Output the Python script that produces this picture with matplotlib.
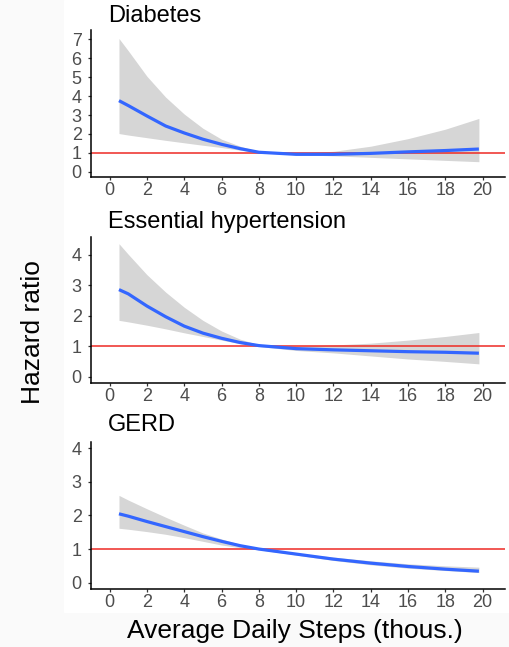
import matplotlib
matplotlib.use("Agg")
import matplotlib.pyplot as plt
from matplotlib.patches import Rectangle

plt.rcParams['font.family'] = ['Liberation Sans', 'DejaVu Sans']

# steps (thousands) where the curves were read
steps = [0.5, 1, 2, 3, 4, 5, 6, 7, 8, 10, 12, 14, 16, 18, 19.8]

# Diabetes
diab_hr = [3.76, 3.5, 2.95, 2.42, 2.05, 1.72, 1.45, 1.22, 1.03, 0.92, 0.92, 0.97, 1.05, 1.12, 1.2]
diab_lo = [2.02, 1.94, 1.8, 1.66, 1.53, 1.4, 1.28, 1.14, 1.0, 0.9, 0.84, 0.76, 0.68, 0.6, 0.53]
diab_hi = [7.05, 6.4, 5.05, 3.95, 3.05, 2.3, 1.72, 1.35, 1.06, 0.97, 1.08, 1.35, 1.75, 2.25, 2.82]

# Essential hypertension
hyp_hr = [2.86, 2.72, 2.32, 1.97, 1.66, 1.43, 1.26, 1.12, 1.02, 0.92, 0.88, 0.85, 0.82, 0.8, 0.77]
hyp_lo = [1.85, 1.8, 1.69, 1.57, 1.44, 1.32, 1.2, 1.08, 0.99, 0.86, 0.78, 0.68, 0.58, 0.5, 0.42]
hyp_hi = [4.37, 4.02, 3.35, 2.78, 2.28, 1.85, 1.5, 1.23, 1.05, 1.0, 1.04, 1.1, 1.2, 1.32, 1.45]

# GERD
gerd_hr = [2.05, 1.98, 1.82, 1.67, 1.52, 1.37, 1.23, 1.1, 1.0, 0.85, 0.7, 0.58, 0.48, 0.4, 0.34]
gerd_lo = [1.62, 1.59, 1.52, 1.44, 1.34, 1.23, 1.12, 1.04, 0.98, 0.82, 0.66, 0.53, 0.43, 0.36, 0.3]
gerd_hi = [2.6, 2.46, 2.2, 1.95, 1.71, 1.48, 1.3, 1.14, 1.02, 0.88, 0.76, 0.65, 0.56, 0.5, 0.46]

titles = ["Diabetes", "Essential hypertension", "GERD"]
curves = [(diab_hr, diab_lo, diab_hi), (hyp_hr, hyp_lo, hyp_hi), (gerd_hr, gerd_lo, gerd_hi)]
yticks = [range(0, 8), range(0, 5), range(0, 5)]
ylims = [(-0.28, 7.5), (-0.2, 4.6), (-0.2, 4.2)]
xticks = list(range(0, 21, 2))

W, H = 510, 647
fig = plt.figure(figsize=(W / 100, H / 100), dpi=100)
fig.patches.append(Rectangle((0, 0), 1, 1, transform=fig.transFigure, color="#fafafa", zorder=-2))
fig.patches.append(Rectangle((64 / W, 1 - 612 / H), 1, 612 / H, transform=fig.transFigure,
                             color="white", zorder=-1))

# axes boxes in pixels: (top, bottom)
boxes = [(30, 177), (236.7, 382.7), (441.7, 589.3)]
title_y = [16, 222, 425]

for i, (top, bot) in enumerate(boxes):
    ax = fig.add_axes([91 / W, 1 - bot / H, (505 - 91) / W, (bot - top) / H])
    ax.set_facecolor("none")
    hr, lo, hi = curves[i]
    ax.fill_between(steps, lo, hi, color="#d6d6d6", lw=0, zorder=1)
    ax.axhline(1, color="#ee2a24", lw=1.1, zorder=2)
    ax.plot(steps, hr, color="#3366ff", lw=2.3, zorder=3, solid_capstyle="butt")
    ax.set_xlim(-1, 21.2)
    ax.set_ylim(*ylims[i])
    ax.set_xticks(xticks)
    ax.set_yticks(list(yticks[i]))
    for s in ["top", "right"]:
        ax.spines[s].set_visible(False)
    for s in ["left", "bottom"]:
        ax.spines[s].set_linewidth(1.1)
        ax.spines[s].set_color("black")
    ax.tick_params(length=2.2, width=0.9, color="#333333", labelcolor="#4d4d4d",
                   labelsize=13)
    ax.tick_params(axis="x", pad=1.5)
    ax.tick_params(axis="y", pad=4.5)
    fig.text(108 / W, 1 - title_y[i] / H, titles[i], fontsize=17, va="center", ha="left")

fig.text(33 / W, 1 - 332 / H, "Hazard ratio", rotation=90, fontsize=19, va="center", ha="center")
fig.text(295 / W, 1 - 631 / H, "Average Daily Steps (thous.)", fontsize=19, va="center", ha="center")

fig.savefig("out.png", dpi=100)
